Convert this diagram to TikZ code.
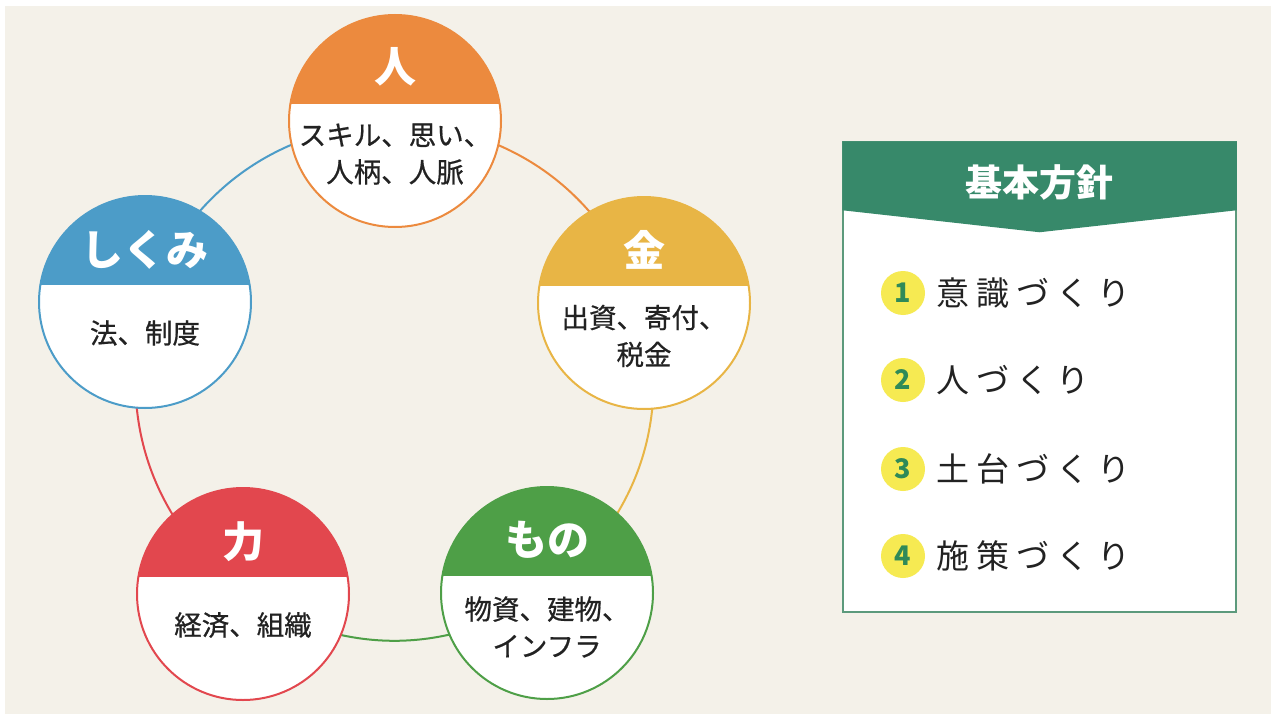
\documentclass[tikz,border=0pt]{standalone}
\usepackage{fontspec}
\newfontfamily\jp{Noto Sans CJK JP}
\newfontfamily\jpm[FakeBold=0.6]{Noto Sans CJK JP}
\newfontfamily\jpsp[LetterSpace=22]{Noto Sans CJK JP}
\usetikzlibrary{calc}
\pgfdeclarelayer{bgl}
\pgfdeclarelayer{lines}
\pgfsetlayers{bgl,lines,main}
\definecolor{bgc}{HTML}{F4F1E9}
\definecolor{corange}{HTML}{EC8A3E}
\definecolor{cgold}{HTML}{E8B545}
\definecolor{cgreen}{HTML}{4E9F47}
\definecolor{cred}{HTML}{E2474E}
\definecolor{cblue}{HTML}{4C9CC8}
\definecolor{pgreen}{HTML}{37896A}
\definecolor{pborder}{HTML}{5C9A7C}
\definecolor{cyellow}{HTML}{F6EA52}
\definecolor{numgreen}{HTML}{2F8A58}
\definecolor{ink}{HTML}{222222}
\tikzset{
  ring/.style={circle, minimum size=212pt, inner sep=0pt, fill=white, draw=#1, line width=2pt,
    path picture={\fill[#1] (path picture bounding box.north west) rectangle ([yshift=17.5pt]path picture bounding box.east);}},
  ttl/.style={text=white, font=\jp\bfseries\fontsize{42}{46}\selectfont, inner sep=0pt},
  body/.style={text=ink, font=\jpm\fontsize{27.5}{37}\selectfont, align=center, inner sep=0pt},
  conn/.style={draw=#1, line width=2pt},
  numc/.style={circle, fill=cyellow, minimum size=44pt, inner sep=0pt, text=numgreen, font=\jp\bfseries\fontsize{27}{28}\selectfont},
  item/.style={text=ink, font=\jpsp\fontsize{33}{36}\selectfont, inner sep=0pt, anchor=west},
}
\begin{document}
\begin{tikzpicture}[x=1pt,y=-1pt]
\useasboundingbox (0,0) rectangle (1274,717);
\begin{pgfonlayer}{bgl}
\fill[white] (0,0) rectangle (1274,717);
\fill[bgc] (5,6) rectangle (1271,714);
\end{pgfonlayer}

% circles
\node[ring=corange] (hito) at (395,121) {};
\node[ring=cgold] (kane) at (644,303) {};
\node[ring=cgreen] (mono) at (547,593) {};
\node[ring=cred] (chikara) at (243,594) {};
\node[ring=cblue] (shikumi) at (145,302) {};

% connectors (behind the circles)
\begin{pgfonlayer}{lines}
\draw[conn=corange] (hito.center) to[bend left=32] (kane.center);
\draw[conn=cgold] (kane.center) to[bend left=32] (mono.center);
\draw[conn=cgreen] (mono.center) to[bend left=32] (chikara.center);
\draw[conn=cred] (chikara.center) to[bend left=32] (shikumi.center);
\draw[conn=cblue] (shikumi.center) to[bend left=32] (hito.center);
\end{pgfonlayer}

% titles
\node[ttl] (t1) at (395,67) {人};
\node[ttl] (t2) at (644,250) {金};
\node[ttl] (t3) at (547,540) {もの};
\node[ttl] (t4) at (243,542) {力};
\node[ttl] (t5) at (145,250) {しくみ};

% bodies
\node[body] (b1) at (395,154) {スキル、思い、\\人柄、人脈};
\node[body] (b2) at (644,336) {出資、寄付、\\税金};
\node[body] (b3) at (547,627) {物資、建物、\\インフラ};
\node[body] (b4) at (243,625) {経済、組織};
\node[body] (b5) at (145,333) {法、制度};

% panel
\node[draw=pborder, fill=white, line width=1.5pt, minimum width=393pt, minimum height=470pt, inner sep=0pt] (panel) at (1039.5,377) {};
\fill[pgreen] (panel.north west) -- (panel.north east) -- ($(panel.north east)+(0,69)$) -- ($(panel.north)+(0,91)$) -- ($(panel.north west)+(0,69)$) -- cycle;
\node[text=white, font=\jp\bfseries\fontsize{37}{40}\selectfont, inner sep=0pt] (ptitle) at (1039.5,182) {基本方針};

\node[numc] (n1) at (903,293) {1};
\node[numc] (n2) at (903,380) {2};
\node[numc] (n3) at (903,469) {3};
\node[numc] (n4) at (903,556) {4};
\node[item] (i1) at (936,293) {意識づくり};
\node[item] (i2) at (936,380) {人づくり};
\node[item] (i3) at (936,469) {土台づくり};
\node[item] (i4) at (936,556) {施策づくり};
\end{tikzpicture}
\end{document}
